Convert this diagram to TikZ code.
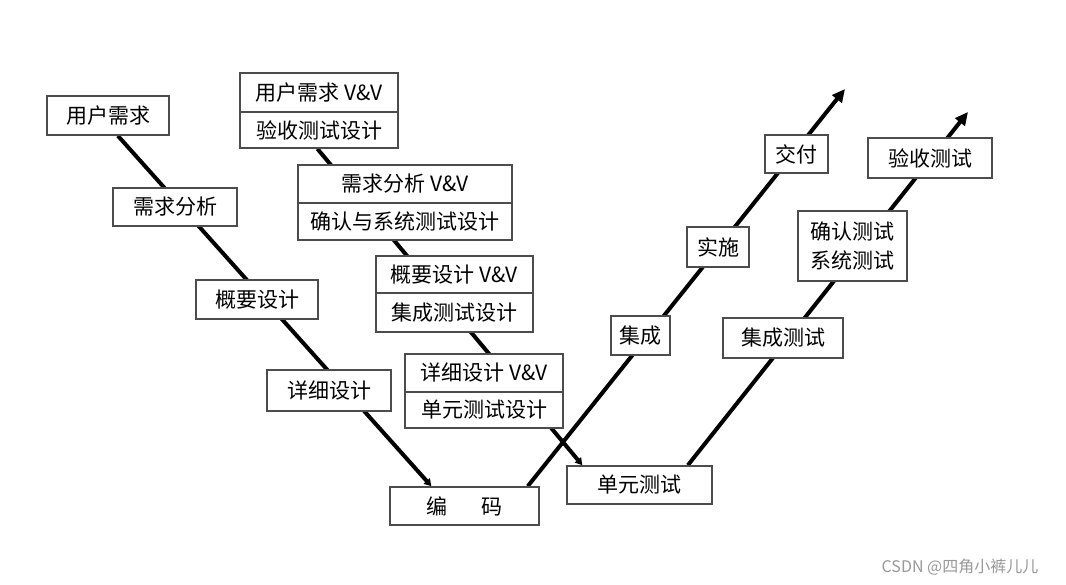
\documentclass[tikz,border=0pt]{standalone}
\usepackage{fontspec}
\newfontfamily\cjk{Noto Sans CJK SC}
\usetikzlibrary{backgrounds,arrows.meta,calc}
\pgfdeclarelayer{paper}
\pgfsetlayers{paper,background,main}
\begin{document}
\begin{tikzpicture}[x=1pt,y=-1pt,
  box/.style={draw=black!70,line width=1.6pt,fill=white,inner sep=0pt,
    font=\cjk\fontsize{21}{29}\selectfont,align=center},
  vline/.style={line width=4pt,black},
  downtip/.style={-{Triangle[length=7pt,width=8pt]}},
  uptip/.style={-{Triangle[length=13pt,width=12pt]}}]
\useasboundingbox (0,0) rectangle (1066,585);
\begin{pgfonlayer}{paper}
\fill[white] (0,0) rectangle (1066,585);
\end{pgfonlayer}
% left branch
\node[box,minimum width=122pt,minimum height=39pt] (u) at (108,115.5) {用户需求};
\node[box,minimum width=124pt,minimum height=38pt] (ra) at (175,207) {需求分析};
\node[box,minimum width=122pt,minimum height=39pt] (hd) at (257,299.5) {概要设计};
\node[box,minimum width=124pt,minimum height=41pt] (dd) at (329,390.5) {详细设计};
\node[box,minimum width=149pt,minimum height=38pt] (code) at (464.5,506) {编\hspace{1.6em}码};
% V&V stack
\node[box,minimum width=158pt,minimum height=39pt] (v1a) at (319,92.5) {用户需求 V\&V};
\node[box,minimum width=158pt,minimum height=36pt] (v1b) at (319,130) {验收测试设计};
\node[box,minimum width=214pt,minimum height=38pt] (v2a) at (405,184) {需求分析 V\&V};
\node[box,minimum width=214pt,minimum height=37pt] (v2b) at (405,221.5) {确认与系统测试设计};
\node[box,minimum width=157pt,minimum height=37pt] (v3a) at (454.5,274.5) {概要设计 V\&V};
\node[box,minimum width=157pt,minimum height=39pt] (v3b) at (454.5,312.5) {集成测试设计};
\node[box,minimum width=158pt,minimum height=38pt] (v4a) at (484,373) {详细设计 V\&V};
\node[box,minimum width=158pt,minimum height=36pt] (v4b) at (484,410) {单元测试设计};
\node[box,minimum width=145pt,minimum height=38pt] (ut) at (639.5,485) {单元测试};
% right branches
\node[box,minimum width=59pt,minimum height=39pt] (jc) at (640.5,335.5) {集成};
\node[box,minimum width=62pt,minimum height=40pt] (ss) at (718,247) {实施};
\node[box,minimum width=63pt,minimum height=38pt] (jf) at (796.5,154) {交付};
\node[box,minimum width=120pt,minimum height=40pt] (it) at (783,338) {集成测试};
\node[box,minimum width=109pt,minimum height=70pt] (st) at (852.5,246) {确认测试\\系统测试};
\node[box,minimum width=124pt,minimum height=40pt] (at) at (930,158) {验收测试};
\coordinate (t1) at (845,89);
\coordinate (t2) at (968,112);
% watermark
\node[font=\cjk\fontsize{16}{18}\selectfont,text=black!40,inner sep=0pt] (wm) at (960,567) {CSDN @四角小裤儿儿};
\begin{scope}[on background layer]
\draw[vline,downtip] ($(u.south west)!0.58!(u.south east)$) -- ($(code.north west)!0.28!(code.north east)$);
\draw[vline,downtip] ($(v1b.south west)!0.49!(v1b.south east)$) -- ($(ut.north west)!0.11!(ut.north east)$);
\draw[vline,uptip] ($(code.north west)!0.92!(code.north east)$) -- (t1);
\draw[vline,uptip] ($(ut.north west)!0.83!(ut.north east)$) -- (t2);
\end{scope}
\end{tikzpicture}
\end{document}
